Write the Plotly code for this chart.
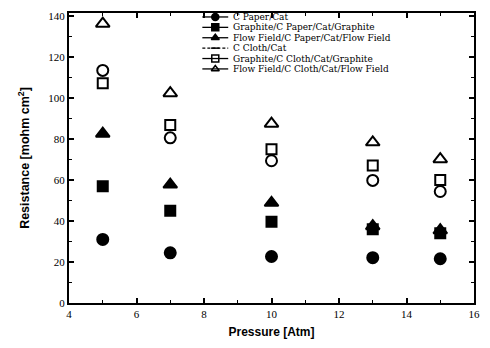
import plotly.graph_objects as go

# ---------------- data ----------------
pressure = [5, 7, 10, 13, 15]
series_names = [
    "C Paper/Cat",
    "Graphite/C Paper/Cat/Graphite",
    "Flow Field/C Paper/Cat/Flow Field",
    "C Cloth/Cat",
    "Graphite/C Cloth/Cat/Graphite",
    "Flow Field/C Cloth/Cat/Flow Field",
]
c_paper_cat = [31.0, 24.5, 22.7, 22.1, 21.6]
graphite_c_paper = [57.0, 45.0, 39.7, 36.0, 34.0]
flowfield_c_paper = [82.6, 57.8, 48.9, 37.5, 35.5]
c_cloth_cat = [113.5, 80.6, 69.4, 59.8, 54.4]
graphite_c_cloth = [107.2, 86.8, 75.0, 67.1, 60.0]
flowfield_c_cloth = [136.3, 102.4, 87.5, 78.4, 70.2]
x_ticks = [4, 6, 8, 10, 12, 14, 16]
y_ticks = [0, 20, 40, 60, 80, 100, 120, 140]

# ---------------- styling ----------------
series_values = [c_paper_cat, graphite_c_paper, flowfield_c_paper,
                 c_cloth_cat, graphite_c_cloth, flowfield_c_cloth]
symbols = ["circle", "square", "triangle-up",
           "circle-open", "square-open", "triangle-up-open"]
sizes = [11, 10, 12, 11, 10, 12]
key_symbols = ["circle", "square", "triangle-up",
               "line-ew-open", "square-open", "triangle-up-open"]
key_dash = ["solid", "solid", "solid", "3px,2px", "solid", "solid"]

W, H = 490, 348
L, R, T, B = 69, 14, 10, 45
pw, ph = W - L - R, H - T - B

def px(x):
    return (x - L) / pw

def py(y):
    return (H - B - y) / ph

fig = go.Figure()
for name, vals, sym, sz in zip(series_names, series_values, symbols, sizes):
    fig.add_trace(go.Scatter(
        x=pressure, y=vals, mode="markers", name=name, showlegend=False,
        marker=dict(symbol=sym, size=sz, color="black",
                    line=dict(color="black", width=2)),
    ))

# ---------------- hand-made compact legend ----------------
row_y = [14, 24.5, 35, 45.5, 56, 66.5]
key_x0, key_x1, key_xm, text_x = 203, 229, 216, 233
shapes = []
annotations = []
for name, ks, dash, ry in zip(series_names, key_symbols, key_dash, row_y):
    shapes.append(dict(type="line", xref="paper", yref="paper",
                       x0=px(key_x0), x1=px(key_x1), y0=py(ry), y1=py(ry),
                       line=dict(color="black", width=1.3, dash=dash)))
    fig.add_trace(go.Scatter(
        x=[px(key_xm)], y=[py(ry)], xaxis="x2", yaxis="y2", mode="markers",
        showlegend=False, hoverinfo="skip",
        marker=dict(symbol=ks, size=7 if ks != "line-ew-open" else 6, color="black",
                    line=dict(color="black", width=1.5)),
    ))
    annotations.append(dict(x=px(text_x), y=py(ry), xref="paper", yref="paper",
                            text=name, showarrow=False, xanchor="left", yanchor="middle",
                            borderpad=0,
                            font=dict(family="DejaVu Serif", size=9, color="black")))

axis_common = dict(
    showline=True, linecolor="black", linewidth=2, mirror="ticks",
    ticks="inside", ticklen=5, tickwidth=1.5, tickcolor="black",
    showgrid=False, zeroline=False,
    tickfont=dict(family="Liberation Serif", size=11, color="black"),
)

fig.update_layout(
    width=W, height=H,
    margin=dict(l=L, r=R, t=T, b=B),
    paper_bgcolor="white", plot_bgcolor="white",
    showlegend=False,
    xaxis=dict(range=[4, 16], tickvals=x_ticks,
               minor=dict(ticks="inside", ticklen=3, tickwidth=1.2, tickcolor="black", dtick=1),
               title=dict(text="Pressure [Atm]", standoff=8,
                          font=dict(family="Liberation Sans", size=12, color="black", weight="bold")),
               **axis_common),
    yaxis=dict(range=[0, 141.5], tickvals=y_ticks,
               minor=dict(ticks="inside", ticklen=3, tickwidth=1.2, tickcolor="black", dtick=10),
               title=dict(text="Resistance [mohm cm<sup>2</sup>]", standoff=16,
                          font=dict(family="Liberation Sans", size=12.5, color="black", weight="bold")),
               **axis_common),
    xaxis2=dict(overlaying="x", range=[0, 1], visible=False, anchor="y2"),
    yaxis2=dict(overlaying="y", range=[0, 1], visible=False, anchor="x2"),
    shapes=shapes,
    annotations=annotations,
)

fig.write_html("out.html", config={"displayModeBar": False},
               post_script="document.body.style.margin='0';")
